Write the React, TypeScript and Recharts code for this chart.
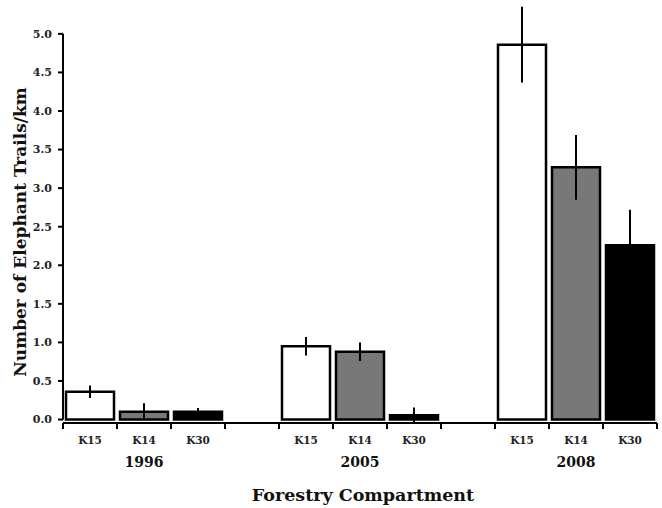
import React from 'react';
import { BarChart, Bar, XAxis, YAxis, ErrorBar, Cell, ReferenceLine, Label } from 'recharts';

const years = ['1996', '2005', '2008'];
const compartments = ['K15', 'K14', 'K30'];
const values1996 = [0.36, 0.1, 0.1];
const errors1996 = [0.08, 0.11, 0.05];
const values2005 = [0.95, 0.88, 0.055];
const errors2005 = [0.12, 0.12, 0.1];
const values2008 = [4.86, 3.27, 2.26];
const errors2008 = [0.49, 0.42, 0.46];
const yTicks = [0, 0.5, 1, 1.5, 2, 2.5, 3, 3.5, 4, 4.5, 5];
const fills = ['#ffffff', '#787878', '#000000'];

const valueSets = [values1996, values2005, values2008];
const errorSets = [errors1996, errors2005, errors2008];

type Row = { key: string; label: string; year: string; showYear: boolean; value: number | null; err: number | null; fill: string };

const rows: Row[] = [];
years.forEach((y, gi) => {
  compartments.forEach((c, ci) => {
    rows.push({ key: `${y}-${c}`, label: c, year: y, showYear: ci === 1, value: valueSets[gi][ci], err: errorSets[gi][ci], fill: fills[ci] });
  });
  if (gi < years.length - 1) {
    rows.push({ key: `gap-${gi}`, label: '', year: '', showYear: false, value: null, err: null, fill: 'none' });
  }
});

const FONT = "'DejaVu Serif', serif";

const XTick = (props: any) => {
  const { x, y, payload, index } = props;
  const row = rows[index];
  const half = payload?.offset ?? 0;
  const isLast = index === rows.length - 1;
  return (
    <g>
      <line x1={x - half} x2={x - half} y1={y} y2={y + 6} stroke="#000" strokeWidth={2} />
      {isLast && <line x1={x + half} x2={x + half} y1={y} y2={y + 6} stroke="#000" strokeWidth={2} />}
      {row && row.label && (
        <text x={x} y={y + 21} textAnchor="middle" fontFamily={FONT} fontWeight="bold" fontSize={10.5} fill="#222">
          {row.label}
        </text>
      )}
      {row && row.showYear && (
        <text x={x} y={y + 44} textAnchor="middle" fontFamily={FONT} fontWeight="bold" fontSize={14} fill="#111">
          {row.year}
        </text>
      )}
    </g>
  );
};

export default function App() {
  return (
    <div style={{ position: 'absolute', left: 0, top: 0, width: 662, height: 508, background: '#fff' }}>
      <BarChart width={662} height={508} data={rows} margin={{ top: 3, right: 5, left: 0, bottom: 0 }} barCategoryGap={3}>
        <XAxis
          dataKey="key"
          interval={0}
          height={85}
          tickLine={false}
          tickSize={0}
          tickMargin={0}
          axisLine={{ stroke: '#000', strokeWidth: 2 }}
          tick={<XTick />}
        >
          <Label
            content={() => (
              <text x={363} y={501} textAnchor="middle" fontFamily={FONT} fontWeight="bold" fontSize={17.5} fill="#111">
                Forestry Compartment
              </text>
            )}
          />
        </XAxis>
        <YAxis
          type="number"
          domain={[0, 5.4]}
          ticks={yTicks}
          width={63}
          axisLine={false}
          tickSize={5}
          tickMargin={6}
          tickLine={{ stroke: '#000', strokeWidth: 2 }}
          tickFormatter={(v: number) => v.toFixed(1)}
          tick={{ fontFamily: FONT, fontWeight: 'bold', fontSize: 11, fill: '#222' }}
        >
          <Label
            content={() => (
              <text
                x={0}
                y={0}
                transform="translate(26,232) rotate(-90)"
                textAnchor="middle"
                fontFamily={FONT}
                fontWeight="bold"
                fontSize={17}
                fill="#111"
              >
                Number of Elephant Trails/km
              </text>
            )}
          />
        </YAxis>
        <ReferenceLine
          segment={[{ x: rows[0].key, y: 0 }, { x: rows[0].key, y: 5 }]}
          position="start"
          stroke="#000"
          strokeWidth={2}
        />
        <Bar dataKey="value" stroke="#000" strokeWidth={2.5} isAnimationActive={false}>
          {rows.map((r) => (
            <Cell key={r.key} fill={r.fill} />
          ))}
          <ErrorBar dataKey="err" width={0} stroke="#000" strokeWidth={2} direction="y" />
        </Bar>
      </BarChart>
    </div>
  );
}
